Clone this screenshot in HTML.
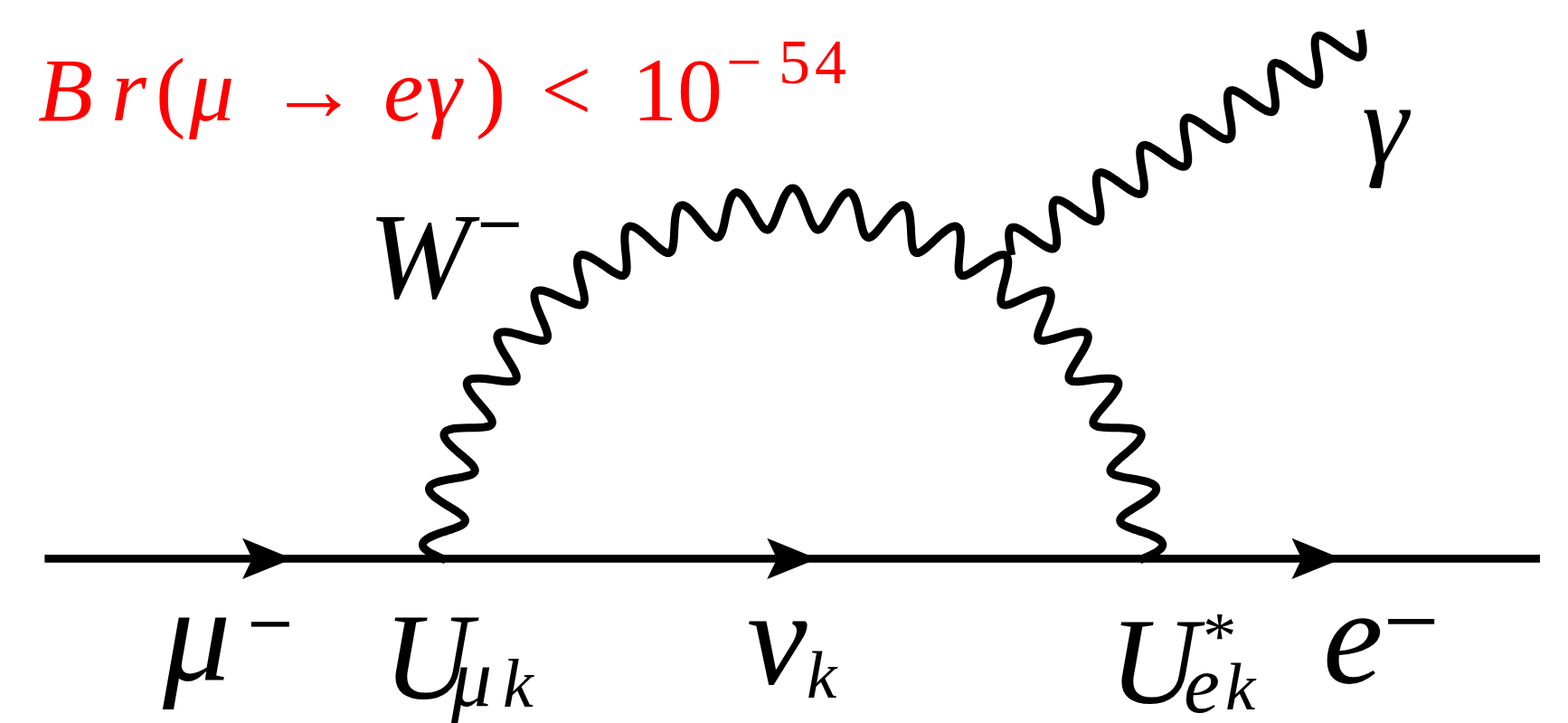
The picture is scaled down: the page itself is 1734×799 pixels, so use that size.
<!DOCTYPE html>
<html><head><meta charset="utf-8"><title>mu to e gamma</title>
<style>html,body{margin:0;padding:0;background:#fff;font-family:"Liberation Sans",sans-serif}svg{display:block}</style></head>
<body>
<svg width="1734" height="799" viewBox="0 0 1734 799">
<rect width="1734" height="799" fill="#fff"/>
<g fill="#ff0000" font-family="'Liberation Serif', serif" font-size="100">
<text x="42" y="133" font-style="italic">B</text>
<text x="123" y="133" font-style="italic">r</text>
<text x="172" y="133">(</text>
<text x="209" y="133" font-style="italic">μ</text>
<text x="297" y="133">→</text>
<text x="424" y="133" font-style="italic">e</text>
<text x="471" y="133" font-style="italic">γ</text>
<text x="526" y="133">)</text>
<text x="598" y="133">&lt;</text>
<text x="699" y="133">1</text>
<text x="749" y="133">0</text>
<text x="803" y="92" font-size="70">−</text>
<text x="861" y="92" font-size="70">5</text>
<text x="901" y="92" font-size="70">4</text>
</g>
<g fill="none" stroke="#000" stroke-width="8.8" stroke-linejoin="round">
<path d="M49.4 617.4 H1703"/>
<path stroke-width="9.0" d="M492.81 618.79C492.28 618.56 491.1 618.05 489.6 617.4C488.1 616.75 485.65 615.74 483.78 614.89C481.91 614.04 480.05 613.18 478.38 612.31C476.71 611.45 475.12 610.56 473.76 609.68C472.41 608.8 471.2 607.91 470.25 607.02C469.3 606.13 468.55 605.24 468.07 604.35C467.6 603.47 467.37 602.58 467.4 601.72C467.43 600.85 467.73 599.98 468.27 599.14C468.82 598.29 469.63 597.46 470.64 596.64C471.66 595.83 472.94 595.03 474.36 594.26C475.77 593.48 477.43 592.73 479.16 591.99C480.89 591.25 482.82 590.53 484.75 589.83C486.67 589.13 488.74 588.45 490.74 587.78C492.73 587.1 494.8 586.45 496.74 585.8C498.67 585.14 500.6 584.5 502.35 583.85C504.1 583.21 505.77 582.57 507.21 581.91C508.65 581.26 509.96 580.6 511 579.92C512.05 579.24 512.9 578.55 513.48 577.83C514.07 577.11 514.42 576.37 514.5 575.6C514.59 574.83 514.42 574.03 514.02 573.19C513.61 572.36 512.94 571.49 512.08 570.59C511.22 569.69 510.1 568.76 508.84 567.79C507.59 566.82 506.1 565.82 504.55 564.79C503 563.76 501.26 562.7 499.53 561.62C497.79 560.54 495.93 559.44 494.14 558.32C492.34 557.21 490.49 556.08 488.77 554.96C487.05 553.84 485.34 552.7 483.83 551.59C482.31 550.47 480.87 549.36 479.66 548.28C478.46 547.2 477.4 546.13 476.59 545.11C475.79 544.09 475.19 543.09 474.85 542.14C474.52 541.2 474.42 540.29 474.59 539.43C474.76 538.58 475.18 537.77 475.85 537.02C476.51 536.27 477.44 535.57 478.57 534.92C479.7 534.27 481.08 533.68 482.6 533.13C484.12 532.58 485.87 532.08 487.7 531.62C489.52 531.15 491.53 530.74 493.55 530.34C495.56 529.94 497.7 529.58 499.78 529.22C501.86 528.86 504 528.53 506.01 528.18C508.03 527.83 510.03 527.49 511.86 527.12C513.68 526.75 515.43 526.37 516.96 525.94C518.48 525.51 519.87 525.06 521.01 524.55C522.15 524.04 523.09 523.48 523.78 522.86C524.47 522.24 524.92 521.56 525.13 520.81C525.34 520.06 525.29 519.25 525.02 518.36C524.74 517.48 524.21 516.52 523.5 515.5C522.78 514.48 521.82 513.38 520.72 512.23C519.63 511.08 518.32 509.87 516.94 508.61C515.57 507.36 514.01 506.04 512.46 504.71C510.91 503.38 509.24 502.01 507.64 500.63C506.03 499.26 504.37 497.86 502.85 496.49C501.32 495.12 499.81 493.73 498.48 492.4C497.15 491.07 495.89 489.75 494.87 488.5C493.84 487.25 492.95 486.03 492.32 484.9C491.68 483.76 491.24 482.69 491.05 481.7C490.86 480.71 490.91 479.8 491.2 478.98C491.5 478.16 492.04 477.43 492.81 476.79C493.59 476.15 494.61 475.6 495.83 475.13C497.04 474.66 498.5 474.28 500.08 473.97C501.67 473.66 503.48 473.44 505.35 473.26C507.22 473.08 509.27 472.97 511.33 472.89C513.38 472.8 515.55 472.77 517.66 472.73C519.76 472.69 521.93 472.69 523.97 472.66C526.02 472.62 528.05 472.59 529.91 472.5C531.77 472.41 533.56 472.3 535.13 472.11C536.71 471.92 538.15 471.69 539.35 471.36C540.55 471.02 541.57 470.62 542.35 470.11C543.12 469.6 543.67 469 543.99 468.29C544.31 467.59 544.39 466.77 544.25 465.86C544.12 464.94 543.74 463.91 543.19 462.79C542.64 461.67 541.85 460.44 540.95 459.14C540.04 457.84 538.93 456.43 537.76 454.99C536.59 453.54 535.26 452 533.93 450.45C532.6 448.9 531.16 447.28 529.78 445.68C528.41 444.08 526.98 442.44 525.69 440.85C524.39 439.26 523.1 437.66 521.99 436.15C520.88 434.63 519.84 433.13 519.02 431.74C518.19 430.34 517.5 429.01 517.05 427.79C516.59 426.57 516.32 425.44 516.28 424.44C516.25 423.43 516.43 422.54 516.85 421.77C517.26 421.01 517.92 420.37 518.78 419.85C519.64 419.33 520.74 418.95 522.01 418.67C523.28 418.39 524.77 418.24 526.39 418.18C528.01 418.11 529.83 418.17 531.71 418.27C533.58 418.38 535.63 418.59 537.67 418.82C539.71 419.05 541.86 419.35 543.95 419.64C546.04 419.92 548.18 420.25 550.2 420.52C552.23 420.8 554.24 421.08 556.1 421.28C557.95 421.47 559.73 421.64 561.31 421.69C562.9 421.74 564.36 421.73 565.6 421.59C566.83 421.44 567.9 421.2 568.75 420.81C569.59 420.43 570.23 419.92 570.65 419.27C571.07 418.62 571.27 417.83 571.28 416.9C571.29 415.97 571.07 414.9 570.7 413.71C570.32 412.52 569.74 411.18 569.04 409.76C568.35 408.33 567.46 406.78 566.53 405.17C565.59 403.56 564.51 401.83 563.43 400.1C562.35 398.36 561.18 396.54 560.06 394.75C558.95 392.96 557.79 391.12 556.75 389.35C555.71 387.59 554.68 385.81 553.81 384.14C552.95 382.47 552.15 380.83 551.55 379.33C550.95 377.83 550.47 376.4 550.2 375.13C549.94 373.85 549.84 372.69 549.96 371.7C550.08 370.7 550.4 369.84 550.93 369.15C551.45 368.46 552.2 367.93 553.13 367.54C554.05 367.16 555.2 366.95 556.5 366.87C557.79 366.79 559.3 366.87 560.91 367.05C562.51 367.23 564.3 367.57 566.14 367.96C567.98 368.35 569.97 368.87 571.95 369.41C573.93 369.94 576.01 370.57 578.03 371.17C580.06 371.77 582.12 372.43 584.08 373.01C586.04 373.59 587.99 374.17 589.79 374.65C591.59 375.12 593.33 375.56 594.88 375.86C596.44 376.15 597.88 376.36 599.13 376.41C600.38 376.45 601.47 376.38 602.36 376.12C603.25 375.87 603.96 375.47 604.48 374.89C605 374.31 605.32 373.56 605.47 372.64C605.62 371.73 605.56 370.63 605.38 369.4C605.19 368.17 604.81 366.76 604.34 365.24C603.87 363.73 603.24 362.06 602.56 360.32C601.88 358.59 601.07 356.72 600.27 354.84C599.47 352.96 598.59 350.98 597.76 349.04C596.93 347.1 596.07 345.11 595.31 343.2C594.55 341.29 593.8 339.38 593.2 337.6C592.6 335.81 592.06 334.08 591.7 332.5C591.33 330.92 591.08 329.44 591.01 328.14C590.95 326.84 591.03 325.68 591.3 324.71C591.57 323.75 592.01 322.95 592.64 322.35C593.27 321.74 594.08 321.33 595.06 321.1C596.03 320.86 597.2 320.83 598.49 320.94C599.79 321.06 601.26 321.37 602.82 321.8C604.38 322.22 606.1 322.82 607.86 323.49C609.62 324.16 611.5 324.98 613.38 325.81C615.25 326.64 617.21 327.58 619.12 328.48C621.03 329.39 622.97 330.35 624.82 331.22C626.66 332.09 628.5 332.97 630.21 333.71C631.91 334.46 633.56 335.16 635.06 335.68C636.55 336.21 637.94 336.64 639.17 336.88C640.4 337.11 641.49 337.2 642.41 337.09C643.33 336.98 644.09 336.69 644.69 336.19C645.29 335.7 645.72 335 646.01 334.12C646.29 333.24 646.41 332.15 646.41 330.9C646.41 329.66 646.26 328.2 646.02 326.64C645.79 325.07 645.42 323.32 645.01 321.5C644.61 319.68 644.09 317.71 643.59 315.73C643.09 313.75 642.51 311.66 641.99 309.62C641.47 307.58 640.92 305.48 640.46 303.48C640 301.48 639.56 299.47 639.24 297.62C638.91 295.76 638.65 293.96 638.53 292.35C638.41 290.74 638.38 289.23 638.51 287.94C638.65 286.64 638.9 285.51 639.32 284.59C639.73 283.68 640.3 282.96 641.01 282.46C641.72 281.96 642.59 281.67 643.59 281.59C644.59 281.51 645.75 281.65 647.01 281.96C648.27 282.28 649.68 282.81 651.15 283.47C652.63 284.13 654.24 284.98 655.87 285.91C657.51 286.84 659.25 287.94 660.97 289.05C662.7 290.16 664.49 291.38 666.24 292.57C667.99 293.75 669.76 294.99 671.45 296.14C673.15 297.28 674.83 298.43 676.4 299.43C677.97 300.42 679.49 301.36 680.89 302.11C682.29 302.86 683.6 303.5 684.77 303.92C685.95 304.34 687.01 304.6 687.94 304.63C688.87 304.65 689.67 304.48 690.33 304.09C691 303.69 691.53 303.07 691.95 302.24C692.37 301.42 692.65 300.36 692.84 299.12C693.04 297.89 693.1 296.43 693.11 294.85C693.12 293.26 693.02 291.48 692.9 289.62C692.77 287.76 692.57 285.74 692.37 283.7C692.17 281.67 691.93 279.51 691.72 277.42C691.52 275.32 691.3 273.16 691.15 271.11C691 269.06 690.87 267.01 690.83 265.13C690.8 263.25 690.81 261.43 690.94 259.82C691.06 258.2 691.27 256.71 691.6 255.45C691.92 254.2 692.35 253.11 692.9 252.27C693.45 251.43 694.12 250.81 694.9 250.42C695.68 250.03 696.58 249.89 697.58 249.96C698.58 250.03 699.7 250.35 700.9 250.85C702.1 251.35 703.41 252.09 704.77 252.97C706.13 253.84 707.59 254.94 709.06 256.11C710.54 257.27 712.08 258.62 713.62 259.98C715.16 261.34 716.74 262.83 718.29 264.26C719.84 265.7 721.4 267.2 722.9 268.59C724.4 269.97 725.88 271.37 727.28 272.59C728.69 273.82 730.05 274.98 731.31 275.93C732.58 276.89 733.78 277.72 734.87 278.31C735.97 278.9 736.99 279.32 737.9 279.49C738.81 279.66 739.62 279.62 740.34 279.33C741.06 279.03 741.68 278.5 742.22 277.75C742.76 277 743.2 275.99 743.58 274.8C743.96 273.61 744.25 272.18 744.5 270.62C744.75 269.05 744.92 267.27 745.08 265.42C745.25 263.56 745.35 261.53 745.47 259.49C745.59 257.45 745.67 255.28 745.79 253.18C745.91 251.07 746.02 248.9 746.18 246.86C746.35 244.81 746.53 242.77 746.78 240.9C747.03 239.04 747.33 237.24 747.7 235.67C748.07 234.09 748.5 232.65 749.02 231.46C749.53 230.26 750.12 229.26 750.79 228.51C751.46 227.77 752.22 227.25 753.05 226.98C753.87 226.72 754.79 226.71 755.77 226.94C756.75 227.16 757.81 227.64 758.91 228.32C760.02 229 761.2 229.94 762.41 231.01C763.62 232.08 764.9 233.38 766.18 234.77C767.46 236.15 768.78 237.71 770.09 239.29C771.41 240.87 772.74 242.58 774.05 244.23C775.36 245.89 776.67 247.61 777.94 249.21C779.21 250.81 780.47 252.42 781.67 253.84C782.87 255.26 784.04 256.62 785.14 257.76C786.25 258.89 787.3 259.9 788.3 260.65C789.29 261.41 790.23 261.97 791.1 262.28C791.98 262.59 792.79 262.67 793.55 262.49C794.3 262.31 795 261.88 795.65 261.22C796.29 260.55 796.88 259.63 797.44 258.51C797.99 257.4 798.5 256.03 798.98 254.52C799.47 253.01 799.91 251.28 800.36 249.47C800.8 247.66 801.21 245.66 801.64 243.67C802.07 241.67 802.48 239.54 802.92 237.48C803.36 235.42 803.8 233.29 804.27 231.29C804.75 229.3 805.24 227.3 805.78 225.5C806.31 223.69 806.87 221.96 807.48 220.46C808.09 218.96 808.73 217.6 809.43 216.5C810.12 215.4 810.85 214.5 811.63 213.86C812.41 213.23 813.23 212.83 814.09 212.7C814.95 212.57 815.86 212.7 816.79 213.07C817.72 213.44 818.69 214.08 819.69 214.92C820.68 215.76 821.7 216.86 822.73 218.11C823.77 219.35 824.82 220.83 825.88 222.39C826.93 223.95 828 225.7 829.06 227.46C830.12 229.22 831.18 231.12 832.22 232.95C833.26 234.79 834.29 236.69 835.3 238.47C836.31 240.24 837.31 242.02 838.28 243.61C839.25 245.2 840.19 246.72 841.11 248.01C842.03 249.3 842.92 250.46 843.79 251.35C844.66 252.25 845.5 252.95 846.31 253.39C847.13 253.83 847.92 254.03 848.7 253.97C849.47 253.91 850.22 253.59 850.97 253.03C851.71 252.48 852.43 251.65 853.15 250.63C853.87 249.62 854.58 248.34 855.29 246.92C856 245.51 856.7 243.86 857.41 242.14C858.13 240.42 858.84 238.51 859.57 236.6C860.3 234.69 861.03 232.66 861.78 230.68C862.53 228.71 863.29 226.68 864.06 224.78C864.84 222.88 865.63 220.98 866.43 219.28C867.23 217.58 868.05 215.95 868.88 214.56C869.71 213.18 870.56 211.93 871.41 210.95C872.26 209.97 873.12 209.18 873.99 208.68C874.86 208.17 875.73 207.9 876.6 207.9C877.47 207.9 878.34 208.17 879.21 208.68C880.08 209.18 880.94 209.97 881.79 210.95C882.64 211.93 883.49 213.18 884.32 214.56C885.15 215.95 885.97 217.58 886.77 219.28C887.57 220.98 888.36 222.88 889.14 224.78C889.91 226.68 890.67 228.71 891.42 230.68C892.17 232.66 892.9 234.69 893.63 236.6C894.36 238.51 895.07 240.42 895.79 242.14C896.5 243.86 897.2 245.51 897.91 246.92C898.62 248.34 899.33 249.62 900.05 250.63C900.77 251.65 901.49 252.48 902.23 253.03C902.98 253.59 903.73 253.91 904.5 253.97C905.28 254.03 906.07 253.83 906.89 253.39C907.7 252.95 908.54 252.25 909.41 251.35C910.28 250.46 911.17 249.3 912.09 248.01C913.01 246.72 913.95 245.2 914.92 243.61C915.89 242.02 916.89 240.24 917.9 238.47C918.91 236.69 919.94 234.79 920.98 232.95C922.02 231.12 923.08 229.22 924.14 227.46C925.2 225.7 926.27 223.95 927.32 222.39C928.38 220.83 929.43 219.35 930.47 218.11C931.5 216.86 932.52 215.76 933.51 214.92C934.51 214.08 935.48 213.44 936.41 213.07C937.34 212.7 938.25 212.57 939.11 212.7C939.97 212.83 940.79 213.23 941.57 213.86C942.35 214.5 943.08 215.4 943.77 216.5C944.47 217.6 945.11 218.96 945.72 220.46C946.33 221.96 946.89 223.69 947.42 225.5C947.96 227.3 948.45 229.3 948.93 231.29C949.4 233.29 949.84 235.42 950.28 237.48C950.72 239.54 951.13 241.67 951.56 243.67C951.99 245.66 952.4 247.66 952.84 249.47C953.29 251.28 953.73 253.01 954.22 254.52C954.7 256.03 955.21 257.4 955.76 258.51C956.32 259.63 956.91 260.55 957.55 261.22C958.2 261.88 958.9 262.31 959.65 262.49C960.41 262.67 961.22 262.59 962.1 262.28C962.97 261.97 963.91 261.41 964.9 260.65C965.9 259.9 966.95 258.89 968.06 257.76C969.16 256.62 970.33 255.26 971.53 253.84C972.73 252.42 973.99 250.81 975.26 249.21C976.53 247.61 977.84 245.89 979.15 244.23C980.46 242.58 981.79 240.87 983.11 239.29C984.42 237.71 985.74 236.15 987.02 234.77C988.3 233.38 989.58 232.08 990.79 231.01C992 229.94 993.18 229 994.29 228.32C995.39 227.64 996.45 227.16 997.43 226.94C998.41 226.71 999.33 226.72 1000.15 226.98C1000.98 227.25 1001.74 227.77 1002.41 228.51C1003.08 229.26 1003.67 230.26 1004.18 231.46C1004.7 232.65 1005.13 234.09 1005.5 235.67C1005.87 237.24 1006.17 239.04 1006.42 240.9C1006.67 242.77 1006.85 244.81 1007.02 246.86C1007.18 248.9 1007.29 251.07 1007.41 253.18C1007.53 255.28 1007.61 257.45 1007.73 259.49C1007.85 261.53 1007.95 263.56 1008.12 265.42C1008.28 267.27 1008.45 269.05 1008.7 270.62C1008.95 272.18 1009.24 273.61 1009.62 274.8C1010 275.99 1010.44 277 1010.98 277.75C1011.52 278.5 1012.14 279.03 1012.86 279.33C1013.58 279.62 1014.39 279.66 1015.3 279.49C1016.21 279.32 1017.23 278.9 1018.33 278.31C1019.42 277.72 1020.62 276.89 1021.89 275.93C1023.15 274.98 1024.51 273.82 1025.92 272.59C1027.32 271.37 1028.8 269.97 1030.3 268.59C1031.8 267.2 1033.36 265.7 1034.91 264.26C1036.46 262.83 1038.04 261.34 1039.58 259.98C1041.12 258.62 1042.66 257.27 1044.14 256.11C1045.61 254.94 1047.07 253.84 1048.43 252.97C1049.79 252.09 1051.1 251.35 1052.3 250.85C1053.5 250.35 1054.62 250.03 1055.62 249.96C1056.62 249.89 1057.52 250.03 1058.3 250.42C1059.08 250.81 1059.75 251.43 1060.3 252.27C1060.85 253.11 1061.28 254.2 1061.6 255.45C1061.93 256.71 1062.14 258.2 1062.26 259.82C1062.39 261.43 1062.4 263.25 1062.37 265.13C1062.33 267.01 1062.2 269.06 1062.05 271.11C1061.9 273.16 1061.68 275.32 1061.48 277.42C1061.27 279.51 1061.03 281.67 1060.83 283.7C1060.63 285.74 1060.43 287.76 1060.3 289.62C1060.18 291.48 1060.08 293.26 1060.09 294.85C1060.1 296.43 1060.16 297.89 1060.36 299.12C1060.55 300.36 1060.83 301.42 1061.25 302.24C1061.67 303.07 1062.2 303.69 1062.87 304.09C1063.53 304.48 1064.33 304.65 1065.26 304.63C1066.19 304.6 1067.25 304.34 1068.43 303.92C1069.6 303.5 1070.91 302.86 1072.31 302.11C1073.71 301.36 1075.23 300.42 1076.8 299.43C1078.37 298.43 1080.05 297.28 1081.75 296.14C1083.44 294.99 1085.21 293.75 1086.96 292.57C1088.71 291.38 1090.5 290.16 1092.23 289.05C1093.95 287.94 1095.69 286.84 1097.33 285.91C1098.96 284.98 1100.57 284.13 1102.05 283.47C1103.52 282.81 1104.93 282.28 1106.19 281.96C1107.45 281.65 1108.61 281.51 1109.61 281.59C1110.61 281.67 1111.48 281.96 1112.19 282.46C1112.9 282.96 1113.47 283.68 1113.88 284.59C1114.3 285.51 1114.55 286.64 1114.69 287.94C1114.82 289.23 1114.79 290.74 1114.67 292.35C1114.55 293.96 1114.29 295.76 1113.96 297.62C1113.64 299.47 1113.2 301.48 1112.74 303.48C1112.28 305.48 1111.73 307.58 1111.21 309.62C1110.69 311.66 1110.11 313.75 1109.61 315.73C1109.11 317.71 1108.59 319.68 1108.19 321.5C1107.78 323.32 1107.41 325.07 1107.18 326.64C1106.94 328.2 1106.79 329.66 1106.79 330.9C1106.79 332.15 1106.91 333.24 1107.19 334.12C1107.48 335 1107.91 335.7 1108.51 336.19C1109.11 336.69 1109.87 336.98 1110.79 337.09C1111.71 337.2 1112.8 337.11 1114.03 336.88C1115.26 336.64 1116.65 336.21 1118.14 335.68C1119.64 335.16 1121.29 334.46 1122.99 333.71C1124.7 332.97 1126.54 332.09 1128.38 331.22C1130.23 330.35 1132.17 329.39 1134.08 328.48C1135.99 327.58 1137.95 326.64 1139.82 325.81C1141.7 324.98 1143.58 324.16 1145.34 323.49C1147.1 322.82 1148.82 322.22 1150.38 321.8C1151.94 321.37 1153.41 321.06 1154.71 320.94C1156 320.83 1157.17 320.86 1158.14 321.1C1159.12 321.33 1159.93 321.74 1160.56 322.35C1161.19 322.95 1161.63 323.75 1161.9 324.71C1162.17 325.68 1162.25 326.84 1162.19 328.14C1162.12 329.44 1161.87 330.92 1161.5 332.5C1161.14 334.08 1160.6 335.81 1160 337.6C1159.4 339.38 1158.65 341.29 1157.89 343.2C1157.13 345.11 1156.27 347.1 1155.44 349.04C1154.61 350.98 1153.73 352.96 1152.93 354.84C1152.13 356.72 1151.32 358.59 1150.64 360.32C1149.96 362.06 1149.33 363.73 1148.86 365.24C1148.39 366.76 1148.01 368.17 1147.82 369.4C1147.64 370.63 1147.58 371.73 1147.73 372.64C1147.88 373.56 1148.2 374.31 1148.72 374.89C1149.24 375.47 1149.95 375.87 1150.84 376.12C1151.73 376.38 1152.82 376.45 1154.07 376.41C1155.32 376.36 1156.76 376.15 1158.32 375.86C1159.87 375.56 1161.61 375.12 1163.41 374.65C1165.21 374.17 1167.16 373.59 1169.12 373.01C1171.08 372.43 1173.14 371.77 1175.17 371.17C1177.19 370.57 1179.27 369.94 1181.25 369.41C1183.23 368.87 1185.22 368.35 1187.06 367.96C1188.9 367.57 1190.69 367.23 1192.29 367.05C1193.9 366.87 1195.41 366.79 1196.7 366.87C1198 366.95 1199.15 367.16 1200.07 367.54C1201 367.93 1201.75 368.46 1202.27 369.15C1202.8 369.84 1203.12 370.7 1203.24 371.7C1203.36 372.69 1203.26 373.85 1203 375.13C1202.73 376.4 1202.25 377.83 1201.65 379.33C1201.05 380.83 1200.25 382.47 1199.39 384.14C1198.52 385.81 1197.49 387.59 1196.45 389.35C1195.41 391.12 1194.25 392.96 1193.14 394.75C1192.02 396.54 1190.85 398.36 1189.77 400.1C1188.69 401.83 1187.61 403.56 1186.67 405.17C1185.74 406.78 1184.85 408.33 1184.16 409.76C1183.46 411.18 1182.88 412.52 1182.5 413.71C1182.13 414.9 1181.91 415.97 1181.92 416.9C1181.93 417.83 1182.13 418.62 1182.55 419.27C1182.97 419.92 1183.61 420.43 1184.45 420.81C1185.3 421.2 1186.37 421.44 1187.6 421.59C1188.84 421.73 1190.3 421.74 1191.89 421.69C1193.47 421.64 1195.25 421.47 1197.1 421.28C1198.96 421.08 1200.97 420.8 1203 420.52C1205.02 420.25 1207.16 419.92 1209.25 419.64C1211.34 419.35 1213.49 419.05 1215.53 418.82C1217.57 418.59 1219.62 418.38 1221.49 418.28C1223.37 418.17 1225.19 418.11 1226.81 418.18C1228.43 418.24 1229.92 418.39 1231.19 418.67C1232.46 418.95 1233.56 419.33 1234.42 419.85C1235.28 420.37 1235.94 421.01 1236.35 421.77C1236.77 422.54 1236.95 423.43 1236.92 424.44C1236.88 425.44 1236.61 426.57 1236.15 427.79C1235.7 429.01 1235.01 430.34 1234.18 431.74C1233.36 433.13 1232.32 434.63 1231.21 436.15C1230.1 437.66 1228.81 439.26 1227.51 440.85C1226.22 442.44 1224.79 444.08 1223.42 445.68C1222.04 447.28 1220.6 448.9 1219.27 450.45C1217.94 452 1216.61 453.54 1215.44 454.99C1214.27 456.43 1213.16 457.84 1212.25 459.14C1211.35 460.44 1210.56 461.67 1210.01 462.79C1209.46 463.91 1209.08 464.94 1208.95 465.86C1208.81 466.77 1208.89 467.59 1209.21 468.29C1209.53 469 1210.08 469.6 1210.85 470.11C1211.63 470.62 1212.65 471.02 1213.85 471.36C1215.05 471.69 1216.49 471.92 1218.07 472.11C1219.64 472.3 1221.43 472.41 1223.29 472.5C1225.15 472.59 1227.18 472.62 1229.23 472.66C1231.27 472.69 1233.44 472.69 1235.54 472.73C1237.65 472.77 1239.82 472.8 1241.87 472.89C1243.93 472.97 1245.98 473.08 1247.85 473.26C1249.72 473.44 1251.53 473.66 1253.12 473.97C1254.7 474.28 1256.16 474.66 1257.37 475.13C1258.59 475.6 1259.61 476.15 1260.39 476.79C1261.16 477.43 1261.7 478.16 1262 478.98C1262.29 479.8 1262.34 480.71 1262.15 481.7C1261.96 482.69 1261.52 483.76 1260.88 484.9C1260.25 486.03 1259.36 487.25 1258.33 488.5C1257.31 489.75 1256.05 491.07 1254.72 492.4C1253.39 493.73 1251.88 495.12 1250.35 496.49C1248.83 497.86 1247.17 499.26 1245.56 500.63C1243.96 502.01 1242.29 503.38 1240.74 504.71C1239.19 506.04 1237.63 507.36 1236.26 508.61C1234.88 509.87 1233.57 511.08 1232.48 512.23C1231.38 513.38 1230.42 514.48 1229.7 515.5C1228.99 516.52 1228.46 517.48 1228.18 518.36C1227.91 519.25 1227.86 520.06 1228.07 520.81C1228.28 521.56 1228.73 522.24 1229.42 522.86C1230.11 523.48 1231.05 524.04 1232.19 524.55C1233.33 525.06 1234.72 525.51 1236.24 525.94C1237.77 526.37 1239.52 526.75 1241.34 527.12C1243.17 527.49 1245.17 527.83 1247.19 528.18C1249.2 528.53 1251.34 528.86 1253.42 529.22C1255.5 529.58 1257.64 529.94 1259.65 530.34C1261.67 530.74 1263.68 531.15 1265.5 531.62C1267.33 532.08 1269.08 532.58 1270.6 533.13C1272.12 533.68 1273.5 534.27 1274.63 534.92C1275.76 535.57 1276.69 536.27 1277.35 537.02C1278.02 537.77 1278.44 538.58 1278.61 539.43C1278.78 540.29 1278.68 541.2 1278.35 542.14C1278.01 543.09 1277.41 544.09 1276.61 545.11C1275.8 546.13 1274.74 547.2 1273.54 548.28C1272.33 549.36 1270.89 550.47 1269.37 551.59C1267.86 552.7 1266.15 553.84 1264.43 554.96C1262.71 556.08 1260.86 557.21 1259.06 558.32C1257.27 559.44 1255.41 560.54 1253.67 561.62C1251.94 562.7 1250.2 563.76 1248.65 564.79C1247.1 565.82 1245.61 566.82 1244.36 567.79C1243.1 568.76 1241.98 569.69 1241.12 570.59C1240.26 571.49 1239.59 572.36 1239.18 573.19C1238.78 574.03 1238.61 574.83 1238.7 575.6C1238.78 576.37 1239.13 577.11 1239.72 577.83C1240.3 578.55 1241.15 579.24 1242.2 579.92C1243.24 580.6 1244.55 581.26 1245.99 581.91C1247.43 582.57 1249.1 583.21 1250.85 583.85C1252.6 584.5 1254.53 585.14 1256.46 585.8C1258.4 586.45 1260.47 587.1 1262.46 587.78C1264.46 588.45 1266.53 589.13 1268.45 589.83C1270.38 590.53 1272.31 591.25 1274.04 591.99C1275.77 592.73 1277.43 593.48 1278.84 594.26C1280.26 595.03 1281.54 595.83 1282.56 596.64C1283.57 597.46 1284.38 598.29 1284.93 599.14C1285.47 599.98 1285.77 600.85 1285.8 601.72C1285.83 602.58 1285.6 603.47 1285.13 604.35C1284.65 605.24 1283.9 606.13 1282.95 607.02C1282 607.91 1280.79 608.8 1279.44 609.68C1278.08 610.56 1276.49 611.45 1274.82 612.31C1273.15 613.18 1271.29 614.04 1269.42 614.89C1267.55 615.74 1265.1 616.75 1263.6 617.4C1262.1 618.05 1260.92 618.56 1260.39 618.79"/>
<path stroke-width="9.0" d="M1118.65 281.96C1118.47 280.92 1117.92 277.78 1117.57 275.73C1117.23 273.68 1116.86 271.59 1116.58 269.64C1116.3 267.69 1116.03 265.76 1115.88 264.02C1115.73 262.27 1115.63 260.61 1115.67 259.17C1115.7 257.72 1115.82 256.41 1116.09 255.33C1116.35 254.26 1116.73 253.36 1117.25 252.7C1117.78 252.03 1118.44 251.58 1119.23 251.35C1120.02 251.11 1120.96 251.11 1122.01 251.29C1123.07 251.47 1124.27 251.88 1125.56 252.44C1126.84 253 1128.27 253.77 1129.75 254.64C1131.23 255.51 1132.83 256.56 1134.45 257.64C1136.07 258.73 1137.78 259.95 1139.47 261.15C1141.16 262.36 1142.91 263.64 1144.6 264.85C1146.29 266.05 1148.01 267.29 1149.63 268.38C1151.26 269.48 1152.86 270.54 1154.36 271.42C1155.85 272.3 1157.28 273.1 1158.58 273.67C1159.89 274.25 1161.1 274.69 1162.17 274.9C1163.24 275.1 1164.19 275.12 1165 274.91C1165.81 274.7 1166.48 274.28 1167.02 273.64C1167.56 273 1167.96 272.13 1168.24 271.07C1168.52 270.02 1168.65 268.74 1168.7 267.31C1168.75 265.88 1168.66 264.24 1168.52 262.51C1168.37 260.78 1168.12 258.87 1167.84 256.93C1167.57 254.99 1167.21 252.91 1166.86 250.86C1166.52 248.81 1166.12 246.67 1165.78 244.63C1165.44 242.58 1165.09 240.51 1164.82 238.58C1164.55 236.65 1164.3 234.76 1164.17 233.05C1164.04 231.34 1163.97 229.72 1164.03 228.32C1164.1 226.92 1164.25 225.67 1164.55 224.64C1164.85 223.62 1165.26 222.78 1165.82 222.17C1166.38 221.56 1167.08 221.17 1167.91 221C1168.74 220.82 1169.71 220.87 1170.8 221.11C1171.89 221.34 1173.12 221.81 1174.44 222.41C1175.75 223.02 1177.2 223.83 1178.71 224.73C1180.21 225.64 1181.83 226.72 1183.46 227.82C1185.1 228.93 1186.81 230.17 1188.51 231.38C1190.2 232.59 1191.95 233.88 1193.64 235.07C1195.33 236.27 1197.03 237.48 1198.64 238.56C1200.25 239.63 1201.84 240.66 1203.31 241.51C1204.78 242.36 1206.19 243.1 1207.46 243.64C1208.73 244.17 1209.91 244.55 1210.95 244.7C1211.98 244.86 1212.9 244.82 1213.67 244.55C1214.45 244.28 1215.08 243.8 1215.59 243.1C1216.09 242.41 1216.45 241.48 1216.69 240.37C1216.94 239.26 1217.04 237.92 1217.06 236.45C1217.08 234.98 1216.97 233.3 1216.8 231.54C1216.64 229.77 1216.37 227.83 1216.08 225.87C1215.79 223.91 1215.42 221.81 1215.07 219.76C1214.72 217.7 1214.33 215.57 1213.99 213.53C1213.66 211.49 1213.31 209.44 1213.06 207.53C1212.81 205.63 1212.58 203.77 1212.47 202.09C1212.37 200.42 1212.32 198.85 1212.42 197.5C1212.51 196.14 1212.7 194.94 1213.03 193.97C1213.36 193 1213.81 192.22 1214.41 191.67C1215.01 191.12 1215.74 190.79 1216.6 190.67C1217.47 190.55 1218.48 190.66 1219.6 190.95C1220.72 191.24 1221.98 191.76 1223.33 192.4C1224.67 193.05 1226.15 193.91 1227.68 194.84C1229.2 195.78 1230.83 196.89 1232.48 198.01C1234.13 199.14 1235.85 200.4 1237.55 201.61C1239.25 202.82 1240.99 204.11 1242.68 205.29C1244.36 206.48 1246.05 207.68 1247.64 208.72C1249.24 209.77 1250.81 210.77 1252.25 211.58C1253.7 212.39 1255.08 213.09 1256.32 213.58C1257.57 214.06 1258.71 214.39 1259.71 214.49C1260.71 214.59 1261.59 214.49 1262.33 214.17C1263.07 213.84 1263.66 213.3 1264.13 212.54C1264.6 211.79 1264.92 210.8 1265.14 209.64C1265.35 208.48 1265.42 207.09 1265.41 205.58C1265.41 204.06 1265.27 202.34 1265.08 200.54C1264.9 198.75 1264.61 196.78 1264.31 194.8C1264.01 192.82 1263.63 190.71 1263.28 188.65C1262.93 186.59 1262.54 184.46 1262.21 182.44C1261.88 180.41 1261.55 178.38 1261.31 176.5C1261.07 174.62 1260.87 172.79 1260.79 171.15C1260.7 169.52 1260.69 167.99 1260.81 166.69C1260.93 165.38 1261.15 164.24 1261.52 163.32C1261.89 162.4 1262.38 161.68 1263.01 161.19C1263.64 160.7 1264.41 160.43 1265.31 160.37C1266.21 160.3 1267.26 160.47 1268.41 160.81C1269.57 161.15 1270.86 161.72 1272.23 162.41C1273.61 163.1 1275.11 164 1276.65 164.97C1278.2 165.93 1279.85 167.07 1281.5 168.21C1283.16 169.36 1284.89 170.62 1286.59 171.84C1288.29 173.05 1290.04 174.33 1291.71 175.51C1293.38 176.68 1295.06 177.86 1296.64 178.88C1298.22 179.9 1299.76 180.87 1301.19 181.64C1302.61 182.41 1303.96 183.06 1305.17 183.5C1306.38 183.94 1307.5 184.21 1308.46 184.25C1309.43 184.29 1310.27 184.14 1310.97 183.76C1311.67 183.37 1312.23 182.77 1312.67 181.96C1313.1 181.15 1313.39 180.1 1313.57 178.89C1313.75 177.68 1313.79 176.25 1313.76 174.69C1313.72 173.13 1313.56 171.37 1313.35 169.54C1313.15 167.71 1312.84 165.72 1312.53 163.72C1312.22 161.72 1311.84 159.61 1311.49 157.55C1311.13 155.48 1310.75 153.36 1310.43 151.35C1310.11 149.34 1309.79 147.33 1309.57 145.47C1309.35 143.62 1309.17 141.83 1309.11 140.23C1309.05 138.64 1309.06 137.16 1309.22 135.9C1309.37 134.64 1309.63 133.55 1310.03 132.69C1310.43 131.83 1310.96 131.17 1311.62 130.74C1312.29 130.3 1313.1 130.1 1314.04 130.09C1314.97 130.08 1316.05 130.31 1317.24 130.7C1318.42 131.09 1319.75 131.7 1321.15 132.44C1322.55 133.17 1324.07 134.1 1325.63 135.1C1327.2 136.1 1328.86 137.25 1330.53 138.42C1332.2 139.58 1333.93 140.85 1335.64 142.07C1337.34 143.29 1339.07 144.56 1340.74 145.72C1342.41 146.88 1344.07 148.03 1345.63 149.03C1347.19 150.02 1348.71 150.95 1350.11 151.68C1351.51 152.41 1352.83 153.02 1354.01 153.4C1355.19 153.79 1356.27 154.01 1357.2 153.99C1358.13 153.98 1358.94 153.76 1359.6 153.32C1360.26 152.88 1360.79 152.22 1361.19 151.35C1361.58 150.48 1361.84 149.39 1361.99 148.12C1362.14 146.86 1362.15 145.38 1362.09 143.78C1362.02 142.18 1361.84 140.38 1361.62 138.53C1361.4 136.67 1361.07 134.65 1360.75 132.64C1360.43 130.63 1360.04 128.5 1359.69 126.44C1359.34 124.38 1358.96 122.27 1358.65 120.27C1358.34 118.27 1358.03 116.28 1357.83 114.46C1357.63 112.63 1357.47 110.88 1357.44 109.32C1357.41 107.77 1357.45 106.34 1357.63 105.13C1357.82 103.93 1358.11 102.89 1358.55 102.09C1358.98 101.28 1359.55 100.68 1360.25 100.31C1360.96 99.93 1361.8 99.78 1362.78 99.83C1363.75 99.88 1364.86 100.16 1366.08 100.6C1367.29 101.04 1368.65 101.71 1370.07 102.48C1371.5 103.25 1373.04 104.22 1374.62 105.25C1376.21 106.27 1377.88 107.45 1379.56 108.63C1381.24 109.8 1382.98 111.08 1384.68 112.3C1386.38 113.51 1388.11 114.78 1389.77 115.92C1391.42 117.07 1393.07 118.2 1394.61 119.16C1396.16 120.12 1397.65 121.01 1399.02 121.7C1400.39 122.39 1401.68 122.95 1402.83 123.28C1403.98 123.62 1405.03 123.78 1405.92 123.71C1406.82 123.64 1407.59 123.36 1408.21 122.87C1408.84 122.37 1409.33 121.64 1409.69 120.72C1410.05 119.8 1410.27 118.65 1410.39 117.33C1410.51 116.02 1410.49 114.49 1410.4 112.85C1410.32 111.21 1410.11 109.38 1409.87 107.5C1409.63 105.61 1409.3 103.58 1408.97 101.55C1408.64 99.53 1408.25 97.4 1407.9 95.34C1407.55 93.28 1407.17 91.17 1406.87 89.19C1406.57 87.21 1406.29 85.25 1406.1 83.46C1405.92 81.66 1405.79 79.95 1405.78 78.43C1405.77 76.92 1405.85 75.54 1406.07 74.39C1406.28 73.23 1406.61 72.25 1407.08 71.51C1407.55 70.76 1408.16 70.22 1408.9 69.9C1409.64 69.58 1410.52 69.49 1411.53 69.6C1412.53 69.7 1413.68 70.04 1414.93 70.53C1416.18 71.02 1417.56 71.72 1419.01 72.54C1420.46 73.35 1422.02 74.35 1423.62 75.4C1425.22 76.46 1426.91 77.66 1428.59 78.84C1430.28 80.03 1432.02 81.32 1433.72 82.53C1435.42 83.74 1437.14 84.99 1438.79 86.12C1440.43 87.24 1442.06 88.35 1443.59 89.28C1445.11 90.21 1446.58 91.06 1447.93 91.71C1449.27 92.35 1450.53 92.86 1451.65 93.14C1452.76 93.43 1453.77 93.53 1454.63 93.41C1455.49 93.28 1456.22 92.94 1456.81 92.39C1457.4 91.83 1457.85 91.05 1458.18 90.07C1458.51 89.09 1458.69 87.88 1458.78 86.52C1458.87 85.17 1458.82 83.59 1458.71 81.91C1458.6 80.23 1458.38 78.37 1458.12 76.46C1457.87 74.55 1457.52 72.5 1457.19 70.46C1456.85 68.42 1456.45 66.29 1456.11 64.23C1455.76 62.18 1455.39 60.09 1455.1 58.12C1454.82 56.16 1454.54 54.23 1454.38 52.47C1454.22 50.71 1454.11 49.03 1454.13 47.56C1454.15 46.1 1454.26 44.77 1454.51 43.66C1454.76 42.56 1455.12 41.64 1455.63 40.95C1456.14 40.26 1456.78 39.78 1457.56 39.52C1458.33 39.26 1459.25 39.23 1460.29 39.39C1461.33 39.54 1462.52 39.93 1463.79 40.47C1465.07 41.01 1466.48 41.76 1467.95 42.61C1469.42 43.46 1471.01 44.5 1472.63 45.57C1474.24 46.65 1475.94 47.87 1477.63 49.06C1479.32 50.26 1481.07 51.55 1482.76 52.76C1484.46 53.96 1486.17 55.2 1487.81 56.31C1489.44 57.41 1491.05 58.49 1492.55 59.39C1494.06 60.29 1495.5 61.1 1496.82 61.69C1498.13 62.29 1499.36 62.75 1500.44 62.98C1501.53 63.21 1502.5 63.26 1503.32 63.08C1504.15 62.89 1504.84 62.5 1505.4 61.88C1505.95 61.27 1506.36 60.43 1506.66 59.39C1506.95 58.36 1507.1 57.1 1507.16 55.7C1507.22 54.29 1507.15 52.67 1507.02 50.96C1506.88 49.24 1506.63 47.35 1506.37 45.41C1506.1 43.48 1505.74 41.41 1505.4 39.36C1505.06 37.31 1504.5 34.17 1504.32 33.13"/>
</g>
<path d="M268 594.85 L323.7 617.4 L268 639.95 L278.9 617.4 Z"/>
<path d="M848.3 594.85 L904 617.4 L848.3 639.95 L859.2 617.4 Z"/>
<path d="M1428.5 594.85 L1484.2 617.4 L1428.5 639.95 L1439.4 617.4 Z"/>
<g fill="#000" font-family="'Liberation Serif', serif" font-style="italic">
<text x="407" y="329" font-size="136">W</text>
<text x="180" y="752" font-size="150">μ</text>
<text x="424" y="772" font-size="136">U</text>
<text x="499" y="779.6" font-size="90">μ</text>
<text x="556" y="781" font-size="76">k</text>
<text x="826" y="756" font-size="150">ν</text>
<text x="892" y="771" font-size="75">k</text>
<text x="1227" y="777" font-size="136">U</text>
<text x="1330" y="728" font-size="75" font-style="normal">*</text>
<text x="1309" y="787" font-size="90">e</text>
<text x="1355" y="784" font-size="75">k</text>
<text x="1463" y="754.5" font-size="150">e</text>
<text x="1506" y="180" font-size="130">γ</text>
</g>
<rect x="531.8" y="245.7" width="41.9" height="5.3"/>
<rect x="1535.1" y="684.0" width="51.1" height="5.7"/>
<rect x="277.8" y="687.2" width="42" height="5.4"/>
</svg>
</body></html>
